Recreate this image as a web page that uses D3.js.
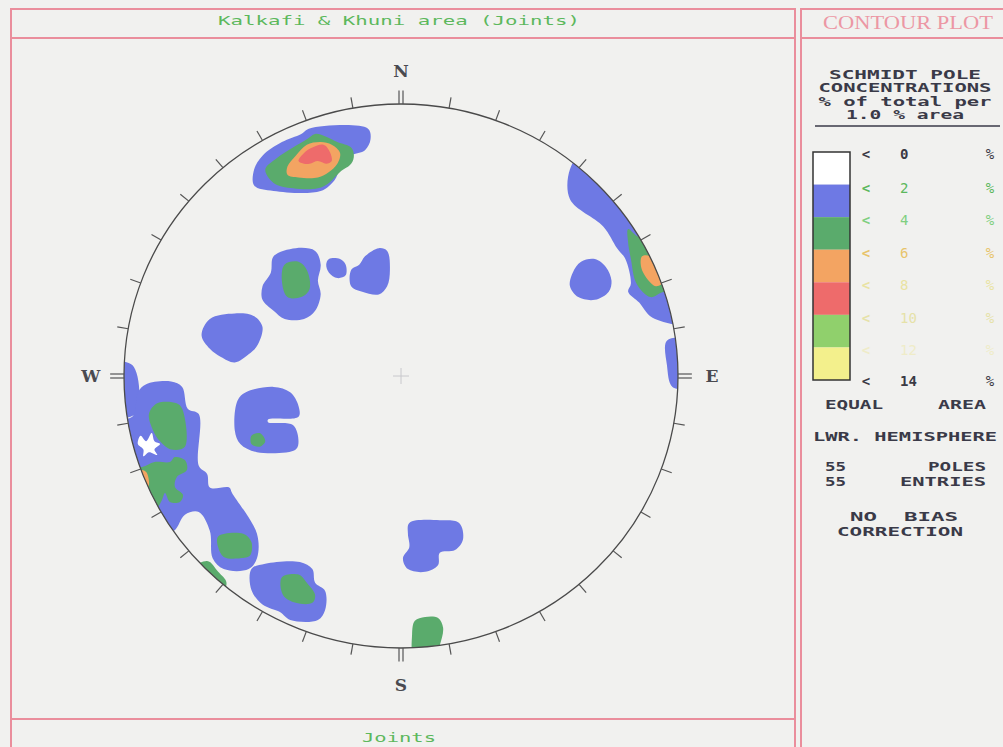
<!DOCTYPE html>
<html><head><meta charset="utf-8">
<script src="https://cdn.jsdelivr.net/npm/d3@7"></script>
<style>html,body{margin:0;padding:0;background:#f1f1ef;overflow:hidden}</style>
</head><body><svg id="c" width="1003" height="747"></svg>
<script>
// ---------- data ----------
const chartTitle = "Kalkafi & Khuni area (Joints)";
const footTitle = "Joints";
const legendLevels = ["0","2","4","6","8","10","12","14"];
const bandColors = ["#ffffff","#6e79e4","#5aab6c","#f3a462","#ee6b6b","#90d06c","#f3f08c"];
const labelColors = ["#3a3a44","#5cb85c","#7fcf80","#e8c46a","#e9e3a2","#e6e2a8","#efecc8","#3a3a44"];
const headerLines = ["SCHMIDT POLE","CONCENTRATIONS","% of total per","1.0 % area"];
const compass = ["N","E","S","W"];
const tickAngles = d3.range(0, 360, 10);

// contour patches in net units (radius 100, x east, y north)
const blueNW = [[-53,76],[-50,81],[-43,86],[-36,89],[-33,91],[-12,91],[-11,87],[-13,83],[-18,81],[-22,76],[-24,72],[-29,68],[-46,68],[-53,70]];
const greenNW = [[-49,76],[-45,80],[-39,84],[-34,87],[-31,89],[-27,88],[-23,86],[-18,84],[-17,81],[-18,78],[-22,75],[-26,71],[-30,69],[-39,69],[-46,71]];
const orangeNW = [[-41,77],[-38,81],[-34,85],[-29,86],[-25,85],[-22,82],[-23,78],[-26,75],[-30,73],[-37,73],[-41,74]];
const redNW = [[-37,79],[-35,82],[-32,84],[-28,85],[-26,83],[-25,79],[-27,78],[-30,79],[-33,78],[-35,78]];
const blueNE = [[61,76],[65,81],[86,72],[112,28],[108,17],[98,19],[90,22],[86,27],[82,31],[83,34],[81,43],[78,47],[73,55],[61,65]];
const greenNE = [[82,54],[86,51],[104,50],[104,30],[95,31],[90,29],[85,34],[83,43],[82,49]];
const orangeNE = [[87,44],[90,44],[95,35],[92,33],[87,39]];
const blueE = [[96,13],[104,13],[104,-4],[98,-4],[96,4]];
const blueNE2 = [[62,38],[65,42],[70,43],[74,40],[76,35],[75,31],[70,28],[64,29],[61,33]];
const blueC1 = [[-46,44],[-38,47],[-31,46],[-29,41],[-30,35],[-29,30],[-31,24],[-35,21],[-42,21],[-46,24],[-50,28],[-50,33],[-47,38]];
const greenC1 = [[-42,41],[-37,42],[-34,39],[-33,32],[-36,29],[-41,29],[-43,35]];
const blueC2 = [[-26,43],[-22,43],[-20,41],[-20,37],[-23,36],[-26,38],[-27,41]];
const blueC3 = [[-13,44],[-8,47],[-5,46],[-4,39],[-5,33],[-8,30],[-14,31],[-18,33],[-18,39],[-15,41]];
const blueW1 = [[-69,21],[-60,23],[-53,22],[-50,18],[-52,11],[-55,8],[-60,5],[-65,7],[-69,10],[-72,15]];
const blueW2 = [[-59,-9],[-56,-6],[-46,-4],[-40,-6],[-37,-11],[-37,-15],[-48,-16],[-48,-17],[-39,-18],[-37,-24],[-38,-27],[-52,-28],[-58,-25],[-60,-20]];
const greenW2 = [[-54,-22],[-51,-21],[-49,-24],[-51,-26],[-54,-25]];
const blueWedge = [[-109,4],[-97,4],[-96,-14],[-109,-14]];
const blueSW = [[-95,-6],[-92,-3],[-83,-2],[-79,-4],[-77,-12],[-73,-14],[-73,-33],[-70,-36],[-69,-41],[-62,-41],[-61,-43],[-52,-58],[-52,-67],[-55,-71],[-64,-71],[-68,-67],[-69,-57],[-73,-50],[-78,-51],[-82,-57],[-94,-62],[-109,-35],[-109,-16],[-97,-15]];
const greenSW1 = [[-91,-14],[-88,-10],[-81,-10],[-79,-12],[-78,-26],[-83,-27],[-87,-24],[-89.5,-20]];
const greenSW2 = [[-93.5,-33.5],[-89,-31.6],[-83.4,-31.6],[-81.6,-29.8],[-78,-30.9],[-77.3,-34.6],[-80.9,-37.1],[-81.6,-40.8],[-78.7,-43.7],[-79.8,-46.3],[-83.4,-46.3],[-85.2,-43],[-86.3,-45.6],[-88.1,-48.2],[-94,-46],[-101,-34]];
const orangeSW = [[-94,-34.6],[-92,-35.3],[-91,-40],[-92,-41.2],[-98,-38]];
const holeSW = [[-94,-22],[-92,-24],[-90,-21],[-89,-24],[-87,-25],[-89,-27],[-88,-29],[-91,-28],[-93,-29.5],[-93,-27],[-95,-25]];
const greenSW3 = [[-66,-59],[-57,-58],[-54,-61],[-54.5,-66],[-58,-67],[-64,-66.5],[-66,-63]];
const greenSW4 = [[-70,-68],[-66,-72],[-63,-76],[-65,-80],[-80,-75]];
const blueS1 = [[-54,-71],[-49,-69],[-36.5,-68.4],[-32,-71],[-31,-76],[-27.4,-79],[-27.4,-86],[-30,-89.7],[-40,-89.7],[-43.7,-86.8],[-50,-84],[-54,-78.7]];
const greenS1 = [[-43,-74],[-37,-73],[-34,-76],[-31,-80.5],[-32,-83.4],[-38,-83.4],[-42.6,-80.5]];
const blueS2 = [[3,-54],[14,-53],[21,-54],[22.4,-60],[19.5,-64],[14,-65],[13.4,-69.5],[8.7,-72],[2.5,-71],[0.7,-67],[3,-63],[2.5,-58]];
const greenS2 = [[5,-90],[8.7,-88.6],[13.4,-89],[15.2,-92.6],[14,-99],[12,-105],[5,-105],[4,-95]];

const patches = [
  {lvl:1, pts:blueNW},{lvl:1, pts:blueNE},{lvl:1, pts:blueE},{lvl:1, pts:blueNE2},
  {lvl:1, pts:blueC1},{lvl:1, pts:blueC2},{lvl:1, pts:blueC3},{lvl:1, pts:blueW1},
  {lvl:1, pts:blueW2},{lvl:1, pts:blueWedge},{lvl:1, pts:blueSW},{lvl:1, pts:blueS1},{lvl:1, pts:blueS2},
  {lvl:0, pts:holeSW},
  {lvl:2, pts:greenNW},{lvl:2, pts:greenNE},{lvl:2, pts:greenC1},{lvl:2, pts:greenW2},
  {lvl:2, pts:greenSW1},{lvl:2, pts:greenSW2},{lvl:2, pts:greenSW3},{lvl:2, pts:greenSW4},
  {lvl:2, pts:greenS1},{lvl:2, pts:greenS2},
  {lvl:3, pts:orangeNW},{lvl:3, pts:orangeNE},{lvl:3, pts:orangeSW},
  {lvl:4, pts:redNW}
];

// ---------- layout ----------
const svg = d3.select("#c");
const cx = 401, cy = 376, rx = 277, ry = 272;
const x = d3.scaleLinear().domain([-100,100]).range([cx-rx, cx+rx]);
const y = d3.scaleLinear().domain([-100,100]).range([cy+ry, cy-ry]);
const pink = "#ea8e9c";
const mono = "'DejaVu Sans Mono', 'Liberation Mono', monospace";

svg.append("rect").attr("width",1003).attr("height",747).attr("fill","#f1f1ef");

// frames
const frame = svg.append("g").attr("stroke",pink).attr("stroke-width",2).attr("fill","none");
frame.append("rect").attr("x",11).attr("y",9).attr("width",784).attr("height",760);
frame.append("line").attr("x1",11).attr("x2",795).attr("y1",38).attr("y2",38);
frame.append("line").attr("x1",11).attr("x2",795).attr("y1",719).attr("y2",719);
frame.append("rect").attr("x",801).attr("y",9).attr("width",220).attr("height",760);
frame.append("line").attr("x1",801).attr("x2",1003).attr("y1",38).attr("y2",38);

svg.append("text").attr("x",399).attr("y",24.5).attr("text-anchor","middle")
  .attr("font-family",mono).attr("font-size",13).attr("fill","#5cb85c")
  .attr("textLength",362).attr("lengthAdjust","spacingAndGlyphs").text(chartTitle);
svg.append("text").attr("x",399).attr("y",741.5).attr("text-anchor","middle")
  .attr("font-family",mono).attr("font-size",13).attr("fill","#5cb85c")
  .attr("textLength",74).attr("lengthAdjust","spacingAndGlyphs").text(footTitle);

// contours
const defs = svg.append("defs");
defs.append("clipPath").attr("id","net").append("ellipse")
  .attr("cx",cx).attr("cy",cy).attr("rx",rx).attr("ry",ry);
const line = d3.line().x(d=>x(d[0])).y(d=>y(d[1])).curve(d3.curveCatmullRomClosed.alpha(0.5));
svg.append("g").attr("clip-path","url(#net)")
  .selectAll("path").data(patches).join("path")
  .attr("d",d=>line(d.pts)).attr("fill",d=>bandColors[d.lvl]);

// centre cross
const cross = svg.append("g").attr("stroke","#c8c8cc").attr("stroke-width",1);
cross.append("line").attr("x1",x(0)-8).attr("x2",x(0)+8).attr("y1",y(0)).attr("y2",y(0));
cross.append("line").attr("x1",x(0)).attr("x2",x(0)).attr("y1",y(0)-8).attr("y2",y(0)+8);

// primitive circle
svg.append("ellipse").attr("cx",cx).attr("cy",cy).attr("rx",rx).attr("ry",ry)
  .attr("fill","none").attr("stroke","#4a4a4a").attr("stroke-width",1.3);

// ticks
const tg = svg.append("g").attr("stroke","#555").attr("stroke-width",1.2);
tickAngles.forEach(a=>{
  const r = Math.PI*a/180, s = Math.sin(r), c = Math.cos(r);
  if (a % 90 === 0) {
    [-2,2].forEach(o=>{
      const ox = Math.abs(c) > 0.5 ? o : 0, oy = Math.abs(s) > 0.5 ? o : 0;
      tg.append("line")
        .attr("x1",x(100*s)+ox).attr("y1",y(100*c)+oy)
        .attr("x2",x(105*s)+ox).attr("y2",y(105*c)+oy);
    });
  } else {
    tg.append("line").attr("x1",x(100*s)).attr("y1",y(100*c))
      .attr("x2",x(104*s)).attr("y2",y(104*c));
  }
});

// compass letters
const cpos = [[0,112],[112.3,0],[0,-113.6],[-112,0]];
svg.append("g").selectAll("text").data(compass).join("text")
  .attr("x",(d,i)=>x(cpos[i][0])).attr("y",(d,i)=>y(cpos[i][1]))
  .attr("text-anchor","middle").attr("dominant-baseline","central")
  .attr("font-family","'DejaVu Serif', serif").attr("font-weight","bold")
  .attr("font-size",17).attr("fill","#4a4a50").text(d=>d);

// right panel
svg.append("text").attr("x",908).attr("y",29).attr("text-anchor","middle")
  .attr("font-family","'Liberation Serif', 'DejaVu Serif', serif").attr("font-size",19)
  .attr("fill","#ec97a4").attr("textLength",170).attr("lengthAdjust","spacingAndGlyphs").text("CONTOUR PLOT");

const hdrY = [74, 87.5, 101, 114.5];
const hdrW = [152, 173, 173, 118];
svg.append("g").selectAll("text").data(headerLines).join("text")
  .attr("x",905).attr("y",(d,i)=>hdrY[i]+4.5).attr("text-anchor","middle")
  .attr("font-family",mono).attr("font-weight","bold").attr("font-size",12)
  .attr("fill","#3a3a48").attr("textLength",(d,i)=>hdrW[i]).attr("lengthAdjust","spacingAndGlyphs")
  .text(d=>d);
svg.append("line").attr("x1",815).attr("x2",1000).attr("y1",126).attr("y2",126)
  .attr("stroke","#3a3a48").attr("stroke-width",1.5);

// legend bar
const ly = d3.scaleLinear().domain([0,7]).range([152,380]);
svg.append("g").selectAll("rect").data(bandColors).join("rect")
  .attr("x",813).attr("width",37).attr("y",(d,i)=>ly(i)).attr("height",(d,i)=>ly(i+1)-ly(i))
  .attr("fill",d=>d);
svg.append("rect").attr("x",813).attr("y",ly(0)).attr("width",37).attr("height",ly(7)-ly(0))
  .attr("fill","none").attr("stroke","#333").attr("stroke-width",1.5);
const lg = svg.append("g").attr("font-family",mono).attr("font-weight","bold").attr("font-size",14);
legendLevels.forEach((v,i)=>{
  const yy = ly(i) + (i===0?2:(i===7?1:3)) + 5;
  const col = labelColors[i];
  lg.append("text").attr("x",866).attr("y",yy).attr("text-anchor","middle").attr("fill",col).text("<");
  lg.append("text").attr("x",900).attr("y",yy).attr("fill",col)
    .attr("font-weight",(i===0||i===7)?"bold":"normal").text(v);
  lg.append("text").attr("x",990).attr("y",yy).attr("text-anchor","middle").attr("fill",col)
    .attr("font-weight","normal").text("%");
});

// footer notes
const notes = [
  {t:"EQUAL", x:825, y:404, a:"start", w:58},
  {t:"AREA", x:986, y:404, a:"end", w:48},
  {t:"LWR. HEMISPHERE", x:905, y:436, a:"middle", w:184},
  {t:"55", x:825, y:466.5, a:"start", w:21},
  {t:"POLES", x:986, y:466.5, a:"end", w:58},
  {t:"55", x:825, y:481, a:"start", w:21},
  {t:"ENTRIES", x:986, y:481, a:"end", w:86},
  {t:"NO  BIAS", x:904, y:516.5, a:"middle", w:108},
  {t:"CORRECTION", x:900, y:531, a:"middle", w:126}
];
svg.append("g").selectAll("text").data(notes).join("text")
  .attr("x",d=>d.x).attr("y",d=>d.y+4.5).attr("text-anchor",d=>d.a)
  .attr("font-family",mono).attr("font-weight","bold").attr("font-size",12.5)
  .attr("fill","#3a3a48").attr("textLength",d=>d.w).attr("lengthAdjust","spacingAndGlyphs")
  .attr("xml:space","preserve").text(d=>d.t);
</script></body></html>
